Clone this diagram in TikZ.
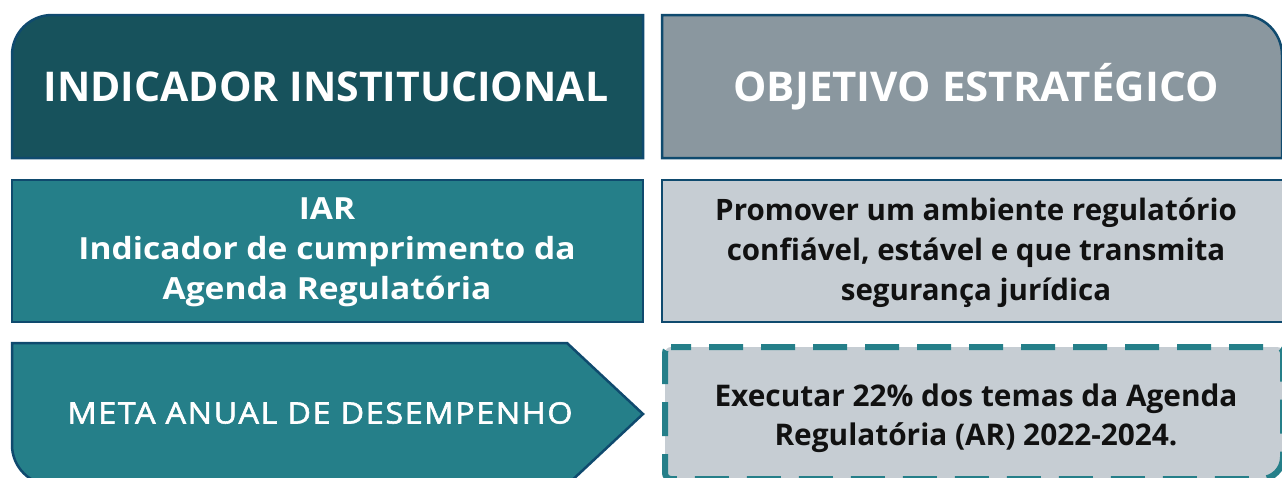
\documentclass[tikz,border=0pt]{standalone}
\usepackage{fontspec}
\setmainfont{Open Sans}
\definecolor{darkteal}{HTML}{17525C}
\definecolor{midteal}{HTML}{257F89}
\definecolor{edgeblue}{HTML}{0F4A6E}
\definecolor{greyA}{HTML}{8A979F}
\definecolor{greyB}{HTML}{C6CDD3}
\definecolor{txtdark}{HTML}{111111}
\tikzset{
  boxedge/.style={draw=edgeblue, line width=2.5pt},
  headtxt/.style={text=white, font=\bfseries\fontsize{41}{48}\selectfont},
  bodytxt/.style={font=\bfseries\fontsize{29.5}{40}\selectfont, align=center},
}
\begin{document}
\begin{tikzpicture}[x=1pt,y=-1pt]
\useasboundingbox (0,0) rectangle (1282,477);
\clip (0,0) rectangle (1282,477);
% row 1
\draw[boxedge, fill=darkteal] (12,158) -- (12,55) arc[start angle=180,end angle=270,radius=40] -- (643,15) -- (643,158) -- cycle;
\node[headtxt] (h1) at (326,87) {INDICADOR INSTITUCIONAL};
\draw[boxedge, fill=greyA] (662,158) -- (662,15) -- (1242,15) arc[start angle=270,end angle=360,radius=40] -- (1282,158) -- cycle;
\node[headtxt, font=\bfseries\fontsize{41}{48}\selectfont\addfontfeatures{FakeStretch=1.025}] (h2) at (976,87) {OBJETIVO ESTRATÉGICO};
% row 2
\draw[boxedge, fill=midteal] (12,180) rectangle (643,322);
\node[bodytxt, text=white, font=\bfseries\fontsize{30.5}{40}\selectfont\addfontfeatures{FakeStretch=1.1}] (b1) at (327,252) {IAR\\Indicador de cumprimento da\\Agenda Regulatória};
\draw[boxedge, fill=greyB] (662,180) rectangle (1290,322);
\node[bodytxt, text=txtdark] (b2) at (976,253) {Promover um ambiente regulatório\\confiável, estável e que transmita\\segurança jurídica};
% row 3
\draw[boxedge, fill=midteal] (12,343) -- (567,343) -- (643,414) -- (567,485) -- (52,485) arc[start angle=90,end angle=180,radius=40] -- cycle;
\node[text=white, font=\fontsize{29.4}{40}\selectfont\addfontfeatures{FakeBold=2,FakeStretch=1.1,LetterSpace=5.5}] (m1) at (320,413) {META ANUAL DE DESEMPENHO};
\draw[draw=midteal, line width=6pt, fill=greyB, dash pattern=on 34pt off 18pt, dash phase=14pt]
  [rounded corners=6pt] (665,347) -- (1283,347) [rounded corners=22pt] -- (1283,479) [rounded corners=6pt] -- (665,479) -- cycle;
\node[bodytxt, text=txtdark, font=\bfseries\fontsize{29.8}{39}\selectfont] (m2) at (976,418) {Executar 22\% dos temas da Agenda\\Regulatória (AR) 2022-2024.};
\end{tikzpicture}
\end{document}
